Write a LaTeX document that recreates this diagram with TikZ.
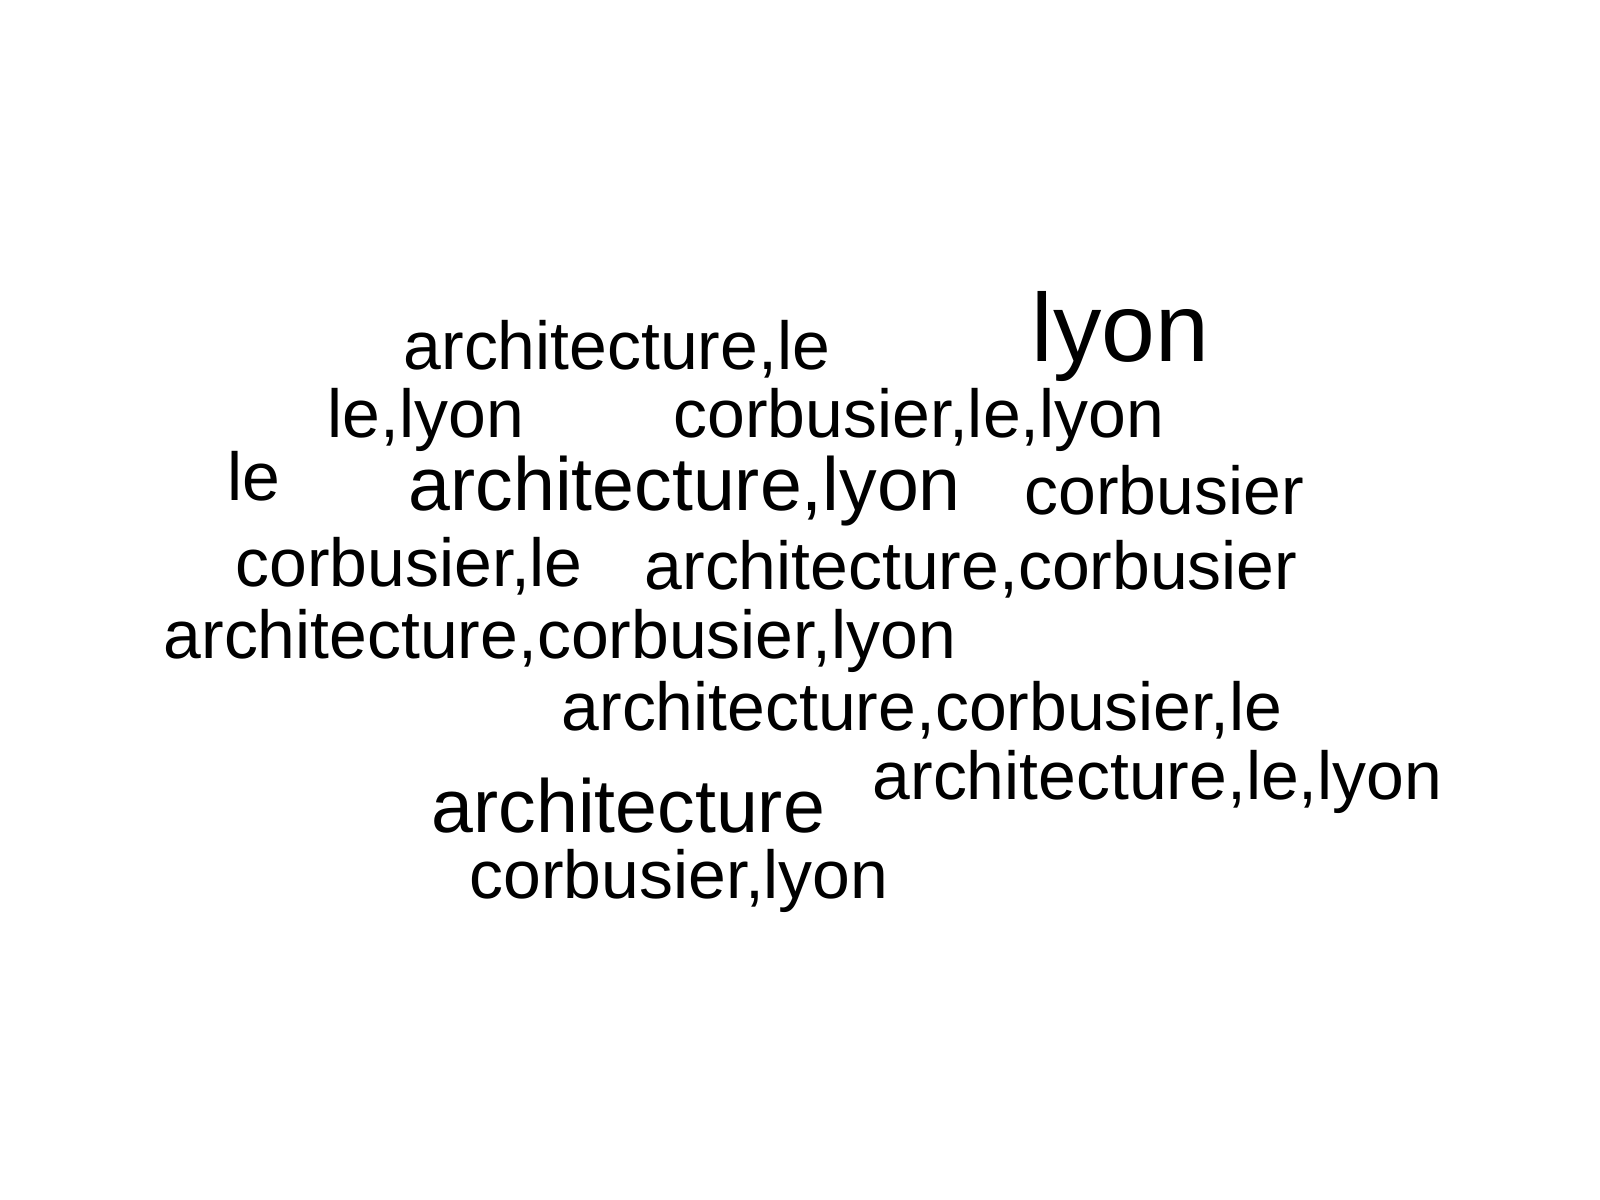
\documentclass[tikz,border=0pt]{standalone}
\usepackage{fontspec}
\setmainfont{Liberation Sans}
\usetikzlibrary{shapes}
\tikzset{
  small/.style={anchor=base west,inner sep=0pt,font=\fontsize{19.3}{19.3}\selectfont},
  mid/.style={anchor=base west,inner sep=0pt,font=\fontsize{21.4}{21.4}\selectfont},
  big/.style={anchor=base west,inner sep=0pt,font=\fontsize{27.5}{27.5}\selectfont}
}
\begin{document}
\begin{tikzpicture}[x=0.01cm,y=-0.01cm]
\useasboundingbox[fill=white] (0,0) rectangle (1600,1200);
\node[big] (0) at (1031,361) {lyon};
\node[small] (1) at (403,369) {architecture,le};
\node[small] (2) at (327,437) {le,lyon};
\node[small] (3) at (673,437) {corbusier,le,lyon};
\node[small] (4) at (227,500) {le};
\node[mid] (5) at (408,510) {architecture,lyon};
\node[small] (6) at (1024,514) {corbusier};
\node[small] (7) at (235,586) {corbusier,le};
\node[small] (8) at (644,589) {architecture,corbusier};
\node[small] (9) at (163,658) {architecture,corbusier,lyon};
\node[small] (10) at (561,730) {architecture,corbusier,le};
\node[small] (11) at (872,799) {architecture,le,lyon};
\node[mid] (12) at (431,832) {architecture};
\node[small] (13) at (469,898) {corbusier,lyon};
\end{tikzpicture}
\end{document}
